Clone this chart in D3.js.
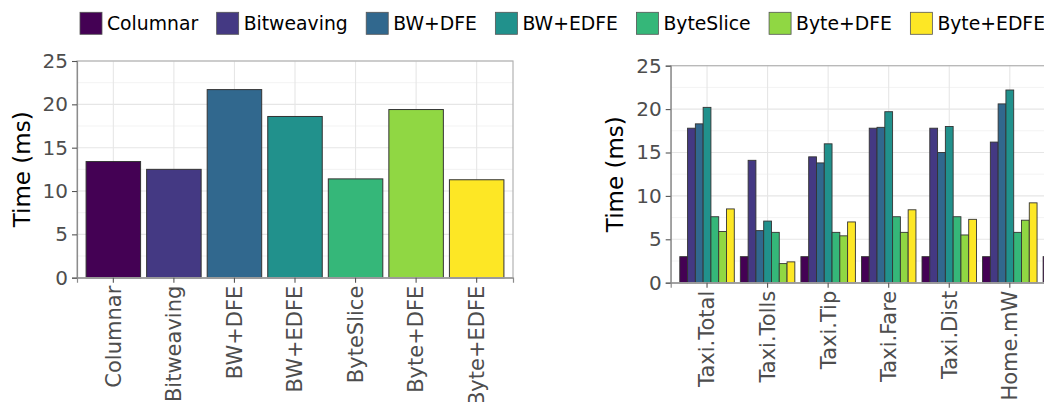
<!DOCTYPE html>
<html>
<head>
<meta charset="utf-8">
<script src="https://cdn.jsdelivr.net/npm/d3@7"></script>
<style>
  body { margin: 0; background: #fff; }
  svg { display: block; font-family: "DejaVu Sans", sans-serif; }
</style>
</head>
<body>
<svg id="chart" width="1044" height="402"></svg>
<script>
// methods / legend
var methods = ["Columnar", "Bitweaving", "BW+DFE", "BW+EDFE", "ByteSlice", "Byte+DFE", "Byte+EDFE"];
var colors = ["#440154", "#443983", "#31688e", "#21918c", "#35b779", "#90d743", "#fde725"];

// left panel: overall time per method
var overallTime = [13.4, 12.5, 21.7, 18.6, 11.4, 19.4, 11.3];

// right panel: time per dataset (last group is cut off at the page edge)
var datasets = ["Taxi.Total", "Taxi.Tolls", "Taxi.Tip", "Taxi.Fare", "Taxi.Dist", "Home.mW", "Home.kW"];
var columnarTime   = [3.0, 3.0, 3.0, 3.0, 3.0, 3.0, 3.0];
var bitweavingTime = [17.8, 14.1, 14.5, 17.8, 17.8, 16.2, null];
var bwDfeTime      = [18.3, 6.0, 13.8, 17.9, 15.0, 20.6, null];
var bwEdfeTime     = [20.2, 7.1, 16.0, 19.7, 18.0, 22.2, null];
var byteSliceTime  = [7.6, 5.8, 5.8, 7.6, 7.6, 5.8, null];
var byteDfeTime    = [5.9, 2.2, 5.4, 5.8, 5.5, 7.2, null];
var byteEdfeTime   = [8.5, 2.4, 7.0, 8.4, 7.3, 9.2, null];
var seriesTime = [columnarTime, bitweavingTime, bwDfeTime, bwEdfeTime, byteSliceTime, byteDfeTime, byteEdfeTime];

var yTicks = [0, 5, 10, 15, 20, 25];
var yMinorTicks = [2.5, 7.5, 12.5, 17.5, 22.5];
var yLabel = "Time (ms)";

var svg = d3.select("#chart");
var pageWidth = +svg.attr("width");
var color = d3.scaleOrdinal().domain(methods).range(colors);

function drawPanel(left, top, width, height, categories, titleX) {
    var g = svg.append("g");

    var xScale = d3.scaleBand().domain(categories)
        .range([left, left + width]).paddingInner(0.1).paddingOuter(0.15);
    var yScale = d3.scaleLinear().domain([0, 25]).range([top + height, top]);

    // grid
    g.selectAll(".minor").data(yMinorTicks).enter().append("line")
        .attr("x1", left).attr("x2", left + width)
        .attr("y1", function(d) { return yScale(d); })
        .attr("y2", function(d) { return yScale(d); })
        .style("stroke", "#f3f3f3").style("stroke-width", 1);
    g.selectAll(".major").data(yTicks).enter().append("line")
        .attr("x1", left).attr("x2", left + width)
        .attr("y1", function(d) { return yScale(d); })
        .attr("y2", function(d) { return yScale(d); })
        .style("stroke", "#e6e6e6").style("stroke-width", 1.1);
    g.selectAll(".vgrid").data(categories).enter().append("line")
        .attr("x1", function(d) { return xScale(d) + xScale.bandwidth() / 2; })
        .attr("x2", function(d) { return xScale(d) + xScale.bandwidth() / 2; })
        .attr("y1", top).attr("y2", top + height)
        .style("stroke", "#e6e6e6").style("stroke-width", 1.1);

    // axis title
    svg.append("text")
        .attr("transform", "translate(" + titleX + "," + (top + height / 2) + ") rotate(-90)")
        .attr("text-anchor", "middle")
        .attr("dy", "0.35em")
        .style("font-size", "23px")
        .style("fill", "#000")
        .text(yLabel);

    return { g: g, x: xScale, y: yScale };
}

function finishPanel(p, left, top, width, height) {
    var g = p.g;
    g.append("rect")
        .attr("x", left).attr("y", top)
        .attr("width", width).attr("height", height)
        .style("fill", "none").style("stroke", "#b3b3b3").style("stroke-width", 1.2);

    var yAxis = g.append("g")
        .attr("transform", "translate(" + left + ",0)")
        .call(d3.axisLeft(p.y).tickValues(yTicks).tickSize(5).tickPadding(4));
    var xAxis = g.append("g")
        .attr("transform", "translate(0," + (top + height) + ")")
        .call(d3.axisBottom(p.x).tickSize(5).tickPadding(4));

    [yAxis, xAxis].forEach(function(a) {
        a.select(".domain").style("stroke", "#8c8c8c").style("stroke-width", 1.2);
        a.selectAll(".tick line").style("stroke", "#555").style("stroke-width", 1.1);
        a.selectAll("text").style("fill", "#4d4d4d")
            .style("font-family", "DejaVu Sans, sans-serif");
    });
    yAxis.selectAll("text").style("font-size", "20px");
    xAxis.selectAll("text")
        .style("font-size", "21px")
        .attr("transform", "rotate(-90)")
        .attr("text-anchor", "end")
        .attr("x", -8).attr("y", 0).attr("dy", "0.35em");
    // categories past the page edge have no visible label
    xAxis.selectAll(".tick")
        .filter(function(d) { return p.x(d) + p.x.bandwidth() / 2 > pageWidth; })
        .select("text").remove();
}

// ---- left panel
var L = { left: 77, top: 61, width: 436, height: 216.7 };
var p1 = drawPanel(L.left, L.top, L.width, L.height, methods, 22);
p1.g.selectAll(".bar")
    .data(methods).enter().append("rect")
    .attr("x", function(d) { return p1.x(d); })
    .attr("y", function(d, i) { return p1.y(overallTime[i]); })
    .attr("width", p1.x.bandwidth())
    .attr("height", function(d, i) { return p1.y(0) - p1.y(overallTime[i]); })
    .style("fill", function(d) { return color(d); })
    .style("stroke", "#333").style("stroke-width", 1);
finishPanel(p1, L.left, L.top, L.width, L.height);

// ---- right panel
var R = { left: 670.7, top: 65.7, width: 436, height: 217 };
var p2 = drawPanel(R.left, R.top, R.width, R.height, datasets, 615);
var xSub = d3.scaleBand().domain(methods).range([0, p2.x.bandwidth()]).padding(0);
var groups = p2.g.selectAll(".grp")
    .data(datasets).enter().append("g")
    .attr("transform", function(d) { return "translate(" + p2.x(d) + ",0)"; });
groups.selectAll("rect")
    .data(function(d, gi) {
        return methods.map(function(m, mi) { return { m: m, v: seriesTime[mi][gi] }; })
            .filter(function(e) { return e.v != null; });
    })
    .enter().append("rect")
    .attr("x", function(e) { return xSub(e.m); })
    .attr("y", function(e) { return p2.y(e.v); })
    .attr("width", xSub.bandwidth())
    .attr("height", function(e) { return p2.y(0) - p2.y(e.v); })
    .style("fill", function(e) { return color(e.m); })
    .style("stroke", "#333").style("stroke-width", 0.9);
finishPanel(p2, R.left, R.top, R.width, R.height);

// ---- legend
var legend = svg.append("g").attr("class", "legend");
var items = legend.selectAll(".item").data(methods).enter().append("g");
items.append("rect")
    .attr("width", 22).attr("height", 22)
    .attr("y", 12.3)
    .style("fill", function(d) { return color(d); })
    .style("stroke", "#555").style("stroke-width", 0.8);
items.append("text")
    .attr("x", 27).attr("y", 23.3).attr("dy", "0.35em")
    .style("font-size", "18.8px").style("fill", "#000")
    .text(function(d) { return d; });
var lx = 80;
items.each(function() {
    var w = d3.select(this).select("text").node().getComputedTextLength();
    d3.select(this).attr("transform", "translate(" + lx + ",0)");
    lx += 27 + w + 18.5;
});
</script>
</body>
</html>
